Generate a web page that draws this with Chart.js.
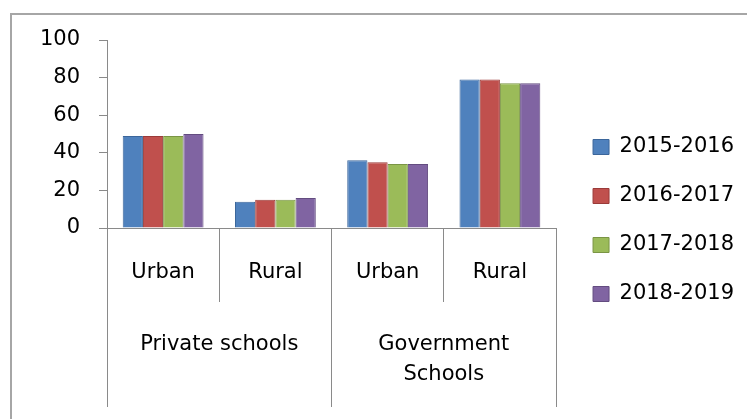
<!DOCTYPE html>
<html>
<head>
<meta charset="utf-8">
<script src="https://cdn.jsdelivr.net/npm/chart.js@4/dist/chart.umd.min.js"></script>
<style>
  html, body { margin: 0; padding: 0; background: #fff; overflow: hidden; }
  #frame { position: absolute; left: 10px; top: 13px; width: 900px; height: 600px; border: 2px solid #a6a6a6; }
  #chart { position: absolute; left: 0; top: 0; }
</style>
</head>
<body>
<div id="frame"></div>
<canvas id="chart" width="747" height="419"></canvas>
<script>
// categories (inner level) and the school groups (outer level)
const categories = ['Urban', 'Rural', 'Urban', 'Rural'];
const schoolGroups = ['Private schools', ['Government', 'Schools']];

const seriesNames = ['2015-2016', '2016-2017', '2017-2018', '2018-2019'];
const values1516 = [49, 14, 36, 79];
const values1617 = [49, 15, 35, 79];
const values1718 = [49, 15, 34, 77];
const values1819 = [50, 16, 34, 77];

const yMin = 0;
const yMax = 100;
const yStep = 20;

const fills = ['#4f81bd', '#c0504d', '#9bbb59', '#8064a2'];
const edges = ['#3b669b', '#9a3b39', '#7a9545', '#634c80'];
const axisGrey = '#8a8a8a';
const font = { family: '"DejaVu Sans", Verdana, sans-serif', size: 21 };

const allValues = [values1516, values1617, values1718, values1819];
const datasets = seriesNames.map((name, i) => ({
    label: name,
    data: allValues[i],
    backgroundColor: fills[i],
    borderColor: edges[i],
    borderWidth: 1,
    barPercentage: 1,
    categoryPercentage: 0.72
}));

// push the legend a little away from the plot, like the excel original
const legendGap = {
    id: 'legendGap',
    afterLayout(chart) {
        chart.legend.left += 9;
        chart.legend.right += 9;
    }
};

new Chart(document.getElementById('chart'), {
    type: 'bar',
    data: { labels: categories, datasets: datasets },
    plugins: [legendGap],
    options: {
        responsive: false,
        animation: false,
        devicePixelRatio: 1,
        layout: { padding: { top: 40, left: 0, right: 12, bottom: 18 } },
        plugins: {
            tooltip: { enabled: false },
            legend: {
                position: 'right',
                align: 'center',
                labels: {
                    boxWidth: 16,
                    boxHeight: 15,
                    padding: 28,
                    color: '#000',
                    font: font
                }
            }
        },
        scales: {
            y: {
                min: yMin,
                max: yMax,
                ticks: { stepSize: yStep, color: '#000', font: font, padding: 19 },
                grid: { drawOnChartArea: false, tickLength: 8, color: axisGrey },
                border: { color: axisGrey },
                afterFit: s => { s.width = 107; }
            },
            x: {
                offset: true,
                ticks: { color: '#000', font: font, padding: -42 },
                grid: { offset: true, drawOnChartArea: false, tickLength: 74, color: axisGrey },
                border: { color: axisGrey },
                afterFit: s => { s.height = 58; }
            },
            x2: {
                type: 'category',
                position: 'bottom',
                labels: schoolGroups,
                offset: true,
                ticks: { color: '#000', font: Object.assign({}, font, { lineHeight: '30px' }), padding: -77 },
                grid: { offset: true, drawOnChartArea: false, tickLength: 121, color: axisGrey },
                border: { display: false },
                afterFit: s => { s.height = 115; }
            }
        }
    }
});
</script>
</body>
</html>
